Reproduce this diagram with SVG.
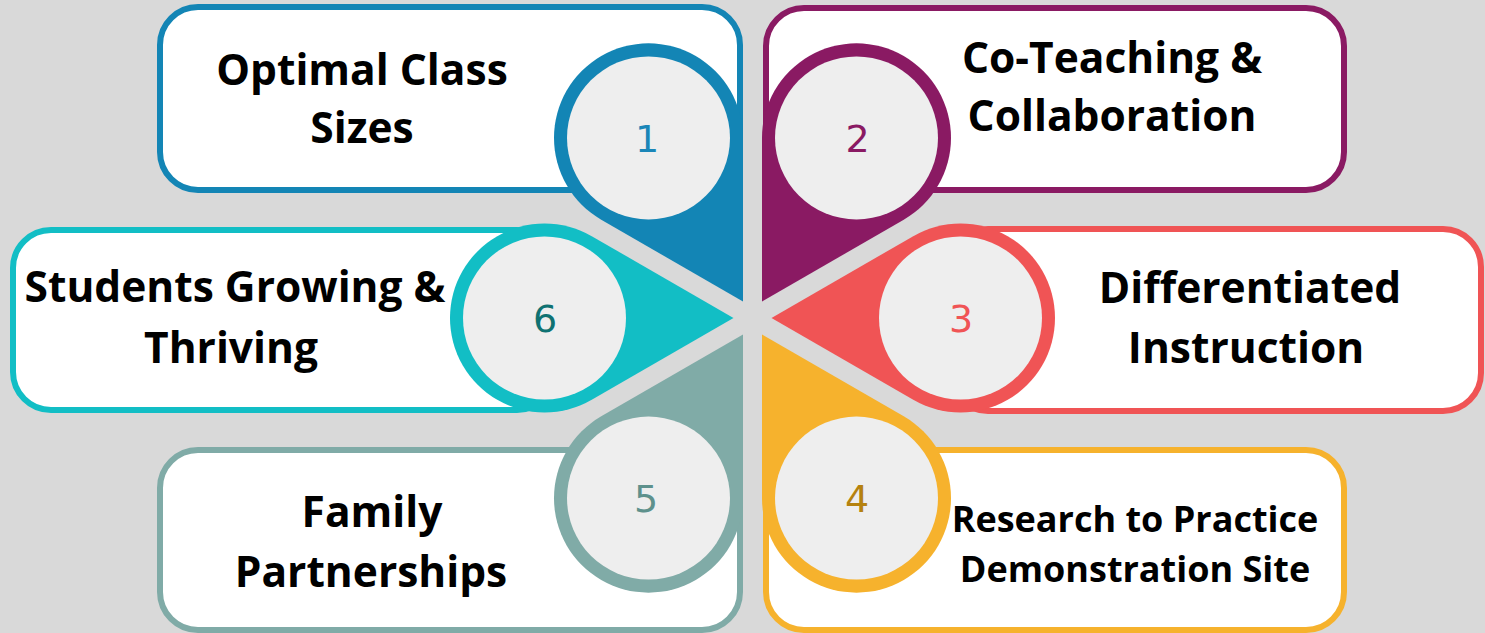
<svg xmlns="http://www.w3.org/2000/svg" width="1485" height="633" viewBox="0 0 1485 633">
<defs>
<path id="petal" d="M19,0 L160.75,-81.84 A94.5,94.5 0 1 1 160.75,81.84 Z"/>
</defs>
<style>
.box{fill:#ffffff;stroke-width:6}
.inner{fill:#eeeeee}
.lbl{font-family:"Open Sans","Liberation Sans",sans-serif;font-weight:700;font-size:42.5px;fill:#000;text-anchor:middle}
.sm{font-size:36px}
.num{font-family:"DejaVu Sans","Liberation Sans",sans-serif;font-size:38px;text-anchor:middle}
</style>
<rect x="0" y="0" width="1485" height="633" fill="#d9d9d9"/>
<g id="connectors"/>
<g id="node1">
<rect class="box" x="160" y="7" width="580" height="183" rx="38" stroke="#1385b5"/>
<use href="#petal" transform="translate(752.5,318) rotate(-120)" fill="#1385b5"/>
<circle class="inner" cx="648.5" cy="137.9" r="81.5"/>
<text class="num" x="647" y="152" fill="#1a86b8">1</text>
<text class="lbl" x="362" y="85">Optimal Class</text>
<text class="lbl" x="362" y="143">Sizes</text>
</g>
<g id="node2">
<rect class="box" x="766" y="8" width="578" height="182" rx="38" stroke="#8a1a63"/>
<use href="#petal" transform="translate(752.5,318) rotate(-60)" fill="#8a1a63"/>
<circle class="inner" cx="856.5" cy="137.9" r="81.5"/>
<text class="num" x="857.5" y="152" fill="#8a1a63">2</text>
<text class="lbl" x="1112" y="73">Co-Teaching &amp;</text>
<text class="lbl" x="1112" y="131">Collaboration</text>
</g>
<g id="node3">
<rect class="box" x="950" y="229" width="531" height="182" rx="38" stroke="#f05455"/>
<use href="#petal" transform="translate(752.5,318)" fill="#f05455"/>
<circle class="inner" cx="960.5" cy="318" r="81.5"/>
<text class="num" x="961" y="332" fill="#f05455">3</text>
<text class="lbl" x="1250" y="303">Differentiated</text>
<text class="lbl" x="1246" y="363">Instruction</text>
</g>
<g id="node4">
<rect class="box" x="766" y="450" width="578" height="180" rx="38" stroke="#f6b22d"/>
<use href="#petal" transform="translate(752.5,318) rotate(60)" fill="#f6b22d"/>
<circle class="inner" cx="856.5" cy="498.1" r="81.5"/>
<text class="num" x="857" y="512" fill="#b5820f">4</text>
<text class="lbl sm" x="1135" y="532">Research to Practice</text>
<text class="lbl sm" x="1135" y="582">Demonstration Site</text>
</g>
<g id="node5">
<rect class="box" x="160" y="450" width="580" height="180" rx="38" stroke="#80aba7"/>
<use href="#petal" transform="translate(752.5,318) rotate(120)" fill="#80aba7"/>
<circle class="inner" cx="648.5" cy="498.1" r="81.5"/>
<text class="num" x="646" y="512" fill="#5e918c">5</text>
<text class="lbl" x="372" y="527">Family</text>
<text class="lbl" x="371" y="587">Partnerships</text>
</g>
<g id="node6">
<rect class="box" x="13" y="230" width="542" height="180" rx="38" stroke="#12bec5"/>
<use href="#petal" transform="translate(752.5,318) rotate(180)" fill="#12bec5"/>
<circle class="inner" cx="544.5" cy="318" r="81.5"/>
<text class="num" x="545" y="332" fill="#0f7272">6</text>
<text class="lbl" x="235" y="302">Students Growing &amp;</text>
<text class="lbl" x="231" y="363">Thriving</text>
</g>
</svg>
